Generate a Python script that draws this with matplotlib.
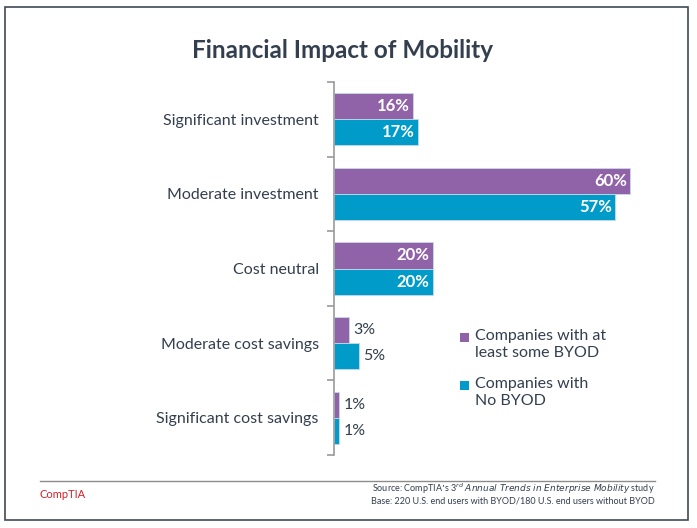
import numpy as np
import matplotlib.pyplot as plt
from matplotlib.patches import Rectangle
from matplotlib.lines import Line2D

categories = ["Significant investment", "Moderate investment", "Cost neutral",
              "Moderate cost savings", "Significant cost savings"]
byod = [16, 60, 20, 3, 1]
no_byod = [17, 57, 20, 5, 1]
series_names = ["Companies with at\nleast some BYOD", "Companies with\nNo BYOD"]

purple = "#9063A8"
cyan = "#009BC9"
dark = "#333F4F"

plt.rcParams['font.family'] = ['Lato', 'DejaVu Sans']

W, H = 697, 528
fig = plt.figure(figsize=(W / 100, H / 100), dpi=100)

def px(x, y):
    return x / W, 1 - y / H

# frame
fig.add_artist(Rectangle(px(5, 520), 683 / W, 513 / H, transform=fig.transFigure,
                         fill=False, edgecolor="#404A55", linewidth=1.2))

ax = fig.add_axes([334 / W, (H - 455) / H, (650 - 334) / W, (455 - 82) / H])
y = np.arange(len(categories))
h = 0.35
ax.barh(y - h / 2, byod, height=h, color=purple, edgecolor="#C9D8EA", linewidth=0.6)
ax.barh(y + h / 2, no_byod, height=h, color=cyan, edgecolor="#C9D8EA", linewidth=0.6)
ax.set_ylim(len(categories) - 0.5, -0.5)
ax.set_xlim(0, (650 - 334) / 4.93)

for s in ["top", "right", "bottom"]:
    ax.spines[s].set_visible(False)
ax.spines["left"].set_color("#9A9A9A")
ax.spines["left"].set_linewidth(1.2)
ax.set_xticks([])
ax.set_yticks(np.arange(-0.5, len(categories)), labels=[""] * (len(categories) + 1))
ax.tick_params(axis="y", which="major", length=5, color="#9A9A9A", width=1.2)
ax.set_yticks(y, labels=categories, minor=True)
ax.tick_params(axis="y", which="minor", length=0, pad=11, labelsize=11.5, labelcolor=dark)

for vals, off in [(byod, -h / 2), (no_byod, h / 2)]:
    for i, v in enumerate(vals):
        if v >= 10:
            ax.text(v - 0.6, i + off, f"{v}%", ha="right", va="center",
                    color="white", fontsize=12, fontweight="bold")
        else:
            ax.text(v + 1.0, i + off, f"{v}%", ha="left", va="center",
                    color=dark, fontsize=11.5)

# legend
for (ly, col, name) in [(337, purple, series_names[0]), (385, cyan, series_names[1])]:
    fig.add_artist(Rectangle(px(460, ly + 5), 9 / W, 9 / H, transform=fig.transFigure,
                             facecolor=col, edgecolor="none"))
    fig.text(*px(475, ly - 8), name, ha="left", va="top", fontsize=11.5,
             color=dark, linespacing=1.3)

fig.text(*px(343, 50), "Financial Impact of Mobility", ha="center", va="center",
         fontsize=17.5, fontweight="bold", color=dark)

# footer
fig.add_artist(Line2D([40 / W, 655 / W], [1 - 481 / H] * 2, transform=fig.transFigure,
                      color="#8C8C8C", linewidth=1))
fig.text(*px(40, 494), "CompTIA", ha="left", va="center", fontsize=8, color="#D2232A")
fig.text(*px(655, 489), "Source: CompTIA\u2019s 3$^{rd}$ $\\it{Annual\\ Trends\\ in\\ Enterprise\\ Mobility}$ study",
         ha="right", va="center", fontsize=6.5, color=dark)
fig.text(*px(655, 501), "Base: 220 U.S. end users with BYOD/180 U.S. end users without BYOD",
         ha="right", va="center", fontsize=6.5, color=dark)

fig.savefig("out.png", dpi=100)
